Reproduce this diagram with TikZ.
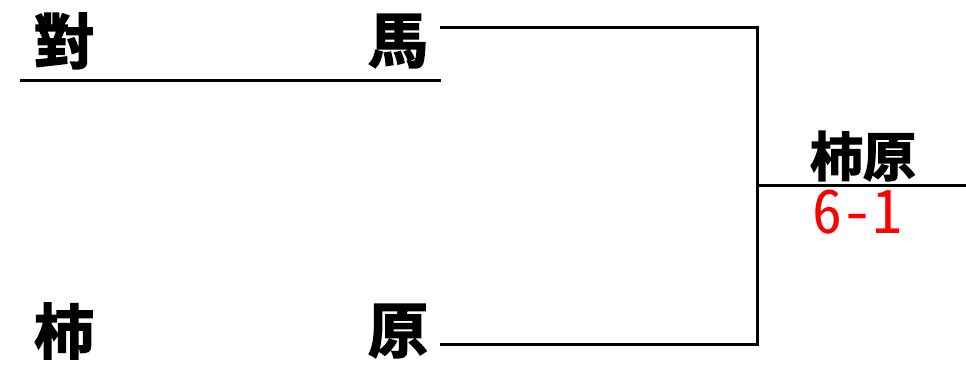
\documentclass[tikz,border=0pt]{standalone}
\usepackage{fontspec}
\newfontfamily\cjk{Noto Sans CJK JP}[BoldFont={Noto Sans CJK JP Bold},BoldFeatures={FakeBold=2.5}]
\newfontfamily\cjknum{Noto Sans CJK JP}[CharacterWidth=Half]
\begin{document}
\begin{tikzpicture}[x=1pt,y=-1pt,
  team/.style={inner sep=0pt,font=\cjk\bfseries\fontsize{60}{60}\selectfont},
  winner/.style={inner sep=0pt,font=\cjk\bfseries\fontsize{53}{53}\selectfont},
  score/.style={inner sep=0pt,text=red,font=\cjknum\fontsize{60}{60}\selectfont},
  bline/.style={line width=3pt}]
\useasboundingbox (0,0) rectangle (966,367);
\node[team] (t1a) at (64,41) {對};
\node[team] (t1b) at (398,41) {馬};
\node[team] (t2a) at (64,331) {柿};
\node[team] (t2b) at (398,331) {原};
\node[winner] (w) at (863,156) {柿原};
\node[score] (s) at (857,212) {6-1};
\coordinate (ul1) at (20,80);
\coordinate (ul2) at (441,80);
\coordinate (a1) at (440,27);
\coordinate (j1) at (757,27);
\coordinate (a2) at (440,344);
\coordinate (j2) at (757,344);
\coordinate (m1) at (757,185);
\coordinate (m2) at (966,185);
\draw[bline] (ul1) -- (ul2);
\draw[bline] (a1) -- (j1) -- (j2) -- (a2);
\draw[bline] (m1) -- (m2);
\end{tikzpicture}
\end{document}
